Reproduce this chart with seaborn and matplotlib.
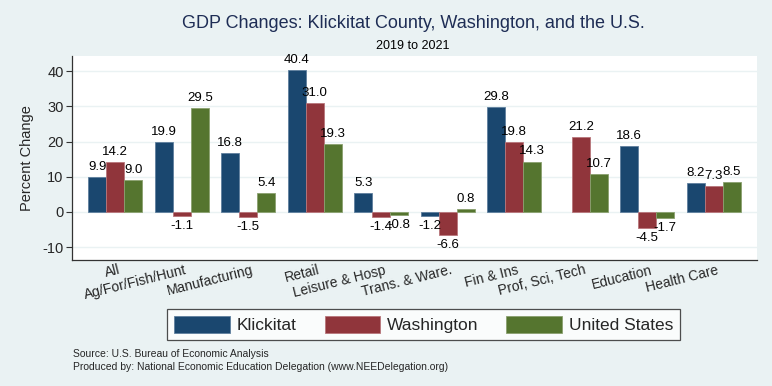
import numpy as np
import pandas as pd
import matplotlib
matplotlib.use("Agg")
import matplotlib.pyplot as plt
from matplotlib.transforms import ScaledTranslation
from matplotlib.patches import Patch
import seaborn as sns

categories = ["All", "Ag/For/Fish/Hunt", "Manufacturing", "Retail", "Leisure & Hosp",
              "Trans. & Ware.", "Fin & Ins", "Prof, Sci, Tech", "Education", "Health Care"]
klickitat = [9.9, 19.9, 16.8, 40.4, 5.3, -1.2, 29.8, np.nan, 18.6, 8.2]
washington = [14.2, -1.1, -1.5, 31.0, -1.4, -6.6, 19.8, 21.2, -4.5, 7.3]
united_states = [9.0, 29.5, 5.4, 19.3, -0.8, 0.8, 14.3, 10.7, -1.7, 8.5]
series_names = ["Klickitat", "Washington", "United States"]
yticks = [-10, 0, 10, 20, 30, 40]

colors = ["#1a476f", "#90353b", "#55752f"]
edge_colors = ["#5f7f9e", "#b8767b", "#8aa06f"]
bg = "#eaf2f3"

df = pd.DataFrame({
    "Sector": categories * 3,
    "Region": sum([[s] * len(categories) for s in series_names], []),
    "Change": klickitat + washington + united_states,
})

sns.set_theme(style="white")
plt.rcParams["font.family"] = ["Liberation Sans", "DejaVu Sans"]

fig = plt.figure(figsize=(7.72, 3.86), dpi=100, facecolor=bg)
ax = fig.add_axes([0.0933, 0.326, 0.9806 - 0.0933, 0.855 - 0.326])
ax.set_facecolor("white")

sns.barplot(data=df, x="Sector", y="Change", hue="Region", order=categories,
            hue_order=series_names, palette=colors, width=0.81, dodge=True,
            errorbar=None, ax=ax, legend=False, saturation=1)

for cont, ec in zip(ax.containers, edge_colors):
    for b in cont:
        b.set_edgecolor(ec)
        b.set_linewidth(0.6)
    labs = ["" if np.isnan(b.get_height()) else f"{b.get_height():.1f}" for b in cont]
    ax.bar_label(cont, labels=labs, padding=3, fontsize=9.5, color="black")

ax.set_xlim(-0.65, 9.65)
ax.set_ylim(-13.7, 44.3)
ax.set_yticks(yticks)
ax.set_yticklabels([str(t) for t in yticks], fontsize=10.5)
ax.yaxis.grid(True, color=bg, linewidth=1)
ax.set_axisbelow(True)
ax.set_xlabel("")
ax.set_ylabel("Percent Change", fontsize=10.5, labelpad=6)

for s in ["top", "right"]:
    ax.spines[s].set_visible(False)
for s in ["left", "bottom"]:
    ax.spines[s].set_color("#333333")
    ax.spines[s].set_linewidth(0.9)

ax.tick_params(axis="y", which="both", left=True, length=4, width=0.8, color="#333333", pad=2)
ax.tick_params(axis="x", which="both", bottom=False, length=0, pad=2)

ax.set_xticks(range(len(categories)))
ax.set_xticklabels(categories, rotation=14, ha="right", va="top",
                   rotation_mode="anchor", fontsize=10)
for lab in ax.get_xticklabels():
    lab.set_transform(lab.get_transform() + ScaledTranslation(2 / 72, 0, fig.dpi_scale_trans))

fig.text(0.535, 0.94, "GDP Changes: Klickitat County, Washington, and the U.S.",
         ha="center", va="center", fontsize=13, color="#1e2d55")
fig.text(0.535, 0.882, "2019 to 2021", ha="center", va="center", fontsize=9,
         color="black")

handles = [Patch(facecolor=c, edgecolor=e, linewidth=0.6) for c, e in zip(colors, edge_colors)]
leg = fig.legend(handles, series_names, loc="center", bbox_to_anchor=(0.549, 0.159), ncol=3,
                 frameon=True, fancybox=False, edgecolor="#222222", facecolor="white",
                 prop={"size": 12.5}, handlelength=3.2, handleheight=1.15,
                 columnspacing=1.6, handletextpad=0.4, borderpad=0.4)
leg.get_frame().set_linewidth(0.9)

fig.text(0.094, 0.083, "Source: U.S. Bureau of Economic Analysis", fontsize=7.5,
         va="center")
fig.text(0.094, 0.050, "Produced by: National Economic Education Delegation (www.NEEDelegation.org)",
         fontsize=7.5, va="center")

fig.savefig("out.png", dpi=100, facecolor=bg)
